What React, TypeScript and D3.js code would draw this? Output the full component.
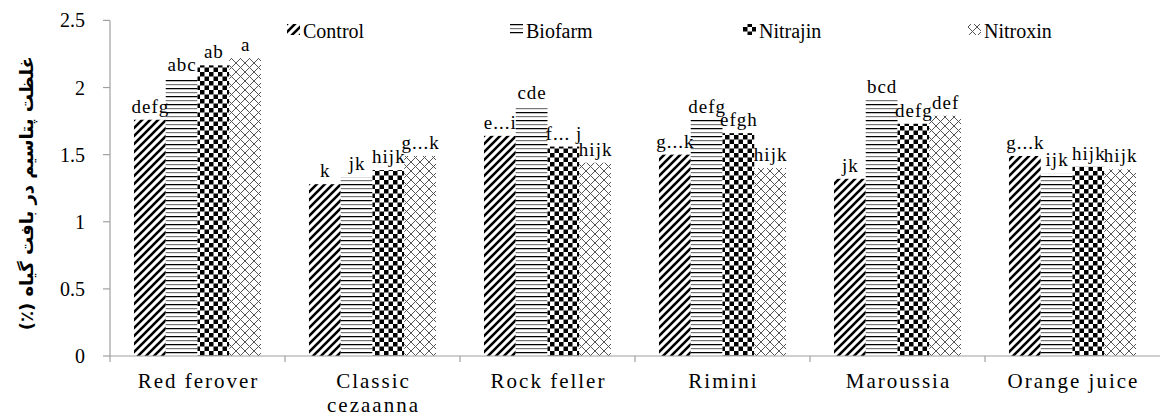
import React from "react";
import * as d3 from "d3";

const categories = ["Red ferover", "Classic cezaanna", "Rock feller", "Rimini", "Maroussia", "Orange juice"];
const categoryLines = [["Red ferover"], ["Classic", "cezaanna"], ["Rock feller"], ["Rimini"], ["Maroussia"], ["Orange juice"]];
const seriesNames = ["Control", "Biofarm", "Nitrajin", "Nitroxin"];
const controlValues = [1.76, 1.28, 1.64, 1.5, 1.32, 1.49];
const biofarmValues = [2.07, 1.33, 1.86, 1.76, 1.91, 1.36];
const nitrajinValues = [2.165, 1.385, 1.56, 1.66, 1.73, 1.41];
const nitroxinValues = [2.22, 1.49, 1.44, 1.4, 1.79, 1.39];
const controlLetters = ["defg", "k", "e...i", "g...k", "jk", "g...k"];
const biofarmLetters = ["abc", "jk", "cde", "defg", "bcd", "ijk"];
const nitrajinLetters = ["ab", "hijk", "f... j", "efgh", "defg", "hijk"];
const nitroxinLetters = ["a", "g...k", "hijk", "hijk", "def", "hijk"];
const yTicks = [0, 0.5, 1, 1.5, 2, 2.5];
const yTitle = "غلظت پتاسیم در بافت گیاه (٪)";

const seriesValues = [controlValues, biofarmValues, nitrajinValues, nitroxinValues];
const seriesLetters = [controlLetters, biofarmLetters, nitrajinLetters, nitroxinLetters];
const patternIds = ["p-control", "p-biofarm", "p-nitrajin", "p-nitroxin"];

const W = 1160;
const H = 416;
const left = 110;
const right = 1160;
const top = 20.4;
const bottom = 356;
const serif = "Liberation Serif";

export default function App() {
  const x0 = d3.scaleBand<string>().domain(categories).range([left, right]).paddingInner(0).paddingOuter(0);
  const bw = x0.bandwidth();
  const x1 = d3.scaleBand<string>().domain(seriesNames).range([bw * 0.137, bw * 0.863]).padding(0);
  const y = d3.scaleLinear().domain([0, 2.5]).range([bottom, top]);
  const legendX = [287, 510, 743, 968];

  return (
    <>
      <style>{`body{margin:0}`}</style>
      <svg width={W} height={H} style={{ display: "block", background: "#fff" }}>
        <defs>
          <pattern id="p-control" width={8} height={8} patternUnits="userSpaceOnUse">
            <path d="M-2,10 L10,-2 M-2,2 L2,-2 M6,10 L10,6" stroke="#000" strokeWidth={2.6} />
          </pattern>
          <pattern id="p-biofarm" width={8} height={8} patternUnits="userSpaceOnUse">
            <rect width={8} height={8} fill="#fff" />
            <line x1={0} x2={8} y1={0.6} y2={0.6} stroke="#000" strokeWidth={1.3} />
            <line x1={0} x2={8} y1={4.6} y2={4.6} stroke="#777" strokeWidth={1.2} />
          </pattern>
          <pattern id="p-nitrajin" width={9} height={9} patternUnits="userSpaceOnUse">
            <rect width={9} height={9} fill="#fff" />
            <rect x={0} y={0} width={4.5} height={4.5} fill="#000" />
            <rect x={4.5} y={4.5} width={4.5} height={4.5} fill="#000" />
          </pattern>
          <pattern id="p-nitroxin" width={9} height={9} patternUnits="userSpaceOnUse">
            <rect width={9} height={9} fill="#fff" />
            <path d="M0,0 L9,9 M9,0 L0,9" stroke="#555" strokeWidth={1} />
          </pattern>
        </defs>

        {/* bars */}
        {categories.map((c, ci) => (
          <g key={c} transform={`translate(${x0(c)},0)`}>
            {seriesNames.map((s, si) => {
              const v = seriesValues[si][ci];
              return (
                <rect
                  key={s}
                  x={x1(s)}
                  y={y(v)}
                  width={x1.bandwidth()}
                  height={y(0) - y(v)}
                  fill={`url(#${patternIds[si]})`}
                />
              );
            })}
            {seriesNames.map((s, si) => {
              const v = seriesValues[si][ci];
              return (
                <text
                  key={s + "-l"}
                  x={(x1(s) as number) + x1.bandwidth() / 2 + 0.5}
                  y={y(v) - 7}
                  textAnchor="middle"
                  fontSize={19}
                  letterSpacing={1}
                  fill="#000"
                  style={{ fontFamily: serif }}
                >
                  {seriesLetters[si][ci]}
                </text>
              );
            })}
          </g>
        ))}

        {/* y axis */}
        <line x1={left} x2={left} y1={top} y2={bottom} stroke="#a0a0a0" strokeWidth={1.2} />
        {yTicks.map((t) => (
          <g key={t}>
            <line x1={left - 7} x2={left} y1={y(t)} y2={y(t)} stroke="#a0a0a0" strokeWidth={1.2} />
            <text x={85} y={y(t)} dy="0.35em" textAnchor="end" fontSize={20} fill="#000" style={{ fontFamily: serif }}>
              {t}
            </text>
          </g>
        ))}

        {/* x axis */}
        <line x1={left} x2={right} y1={bottom} y2={bottom} stroke="#a0a0a0" strokeWidth={1.2} />
        {categories.map((c) => (
          <line key={c + "-t"} x1={x0(c) as number} x2={x0(c) as number} y1={bottom} y2={bottom + 6} stroke="#a0a0a0" strokeWidth={1.2} />
        ))}
        {categories.map((c, ci) => (
          <text key={c + "-x"} textAnchor="middle" fontSize={21} fill="#000" letterSpacing={2} style={{ fontFamily: serif }}>
            {categoryLines[ci].map((ln, li) => (
              <tspan key={li} x={(x0(c) as number) + bw / 2 + 1} y={388 + li * 24}>
                {ln}
              </tspan>
            ))}
          </text>
        ))}

        {/* y title */}
        <text
          transform={`translate(33,${(top + bottom) / 2 + 5}) rotate(-90)`}
          textAnchor="middle"
          fontWeight="bold"
          fontSize={18}
          fill="#000"
          direction="rtl"
          style={{ fontFamily: "DejaVu Sans" }}
        >
          {yTitle}
        </text>

        {/* legend */}
        {seriesNames.map((s, si) => (
          <g key={s + "-leg"} transform={`translate(${legendX[si]},0)`}>
            <rect x={0} y={24} width={13} height={11} fill={`url(#${patternIds[si]})`} />
            <text x={16} y={38} fontSize={20} fill="#000" style={{ fontFamily: serif }}>
              {s}
            </text>
          </g>
        ))}
      </svg>
    </>
  );
}
